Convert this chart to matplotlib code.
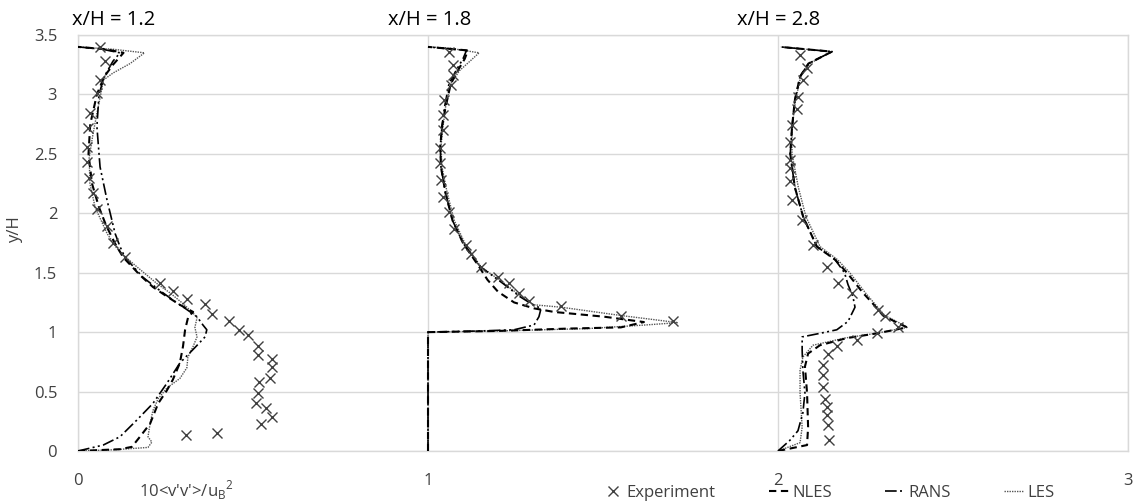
import matplotlib
matplotlib.use("Agg")
import matplotlib.pyplot as plt
from matplotlib.lines import Line2D

plt.rcParams['font.family'] = ['Open Sans', 'DejaVu Sans']

# ---------------- data ----------------
stations = ["x/H = 1.2", "x/H = 1.8", "x/H = 2.8"]
offsets = [0, 1, 2]

# x/H = 1.2
exp1_y = [3.40, 3.28, 3.12, 3.01, 2.84, 2.72, 2.56, 2.43, 2.30, 2.17, 2.04, 1.89, 1.75, 1.63, 1.41, 1.35,
          1.28, 1.24, 1.15, 1.09, 1.02, 0.98, 0.88, 0.81, 0.77, 0.71, 0.61, 0.58, 0.49, 0.40, 0.36, 0.29,
          0.23, 0.135, 0.15]
exp1_x = [0.063, 0.077, 0.063, 0.054, 0.034, 0.029, 0.026, 0.025, 0.032, 0.043, 0.054, 0.082, 0.10, 0.134,
          0.234, 0.27, 0.31, 0.363, 0.382, 0.432, 0.46, 0.486, 0.513, 0.513, 0.553, 0.553, 0.548, 0.517,
          0.513, 0.508, 0.536, 0.553, 0.523, 0.309, 0.396]
nles1_y = [0, 0.015, 0.035, 0.12, 0.23, 0.40, 0.51, 0.60, 0.74, 0.88, 1.02, 1.13, 1.17, 1.23, 1.30, 1.38,
           1.48, 1.63, 1.75, 1.90, 2.05, 2.25, 2.5, 2.75, 3.0, 3.15, 3.25, 3.35, 3.38, 3.40]
nles1_x = [0, 0.12, 0.154, 0.177, 0.206, 0.229, 0.254, 0.271, 0.291, 0.30, 0.306, 0.315, 0.329, 0.291,
           0.254, 0.214, 0.177, 0.129, 0.105, 0.08, 0.06, 0.04, 0.03, 0.035, 0.054, 0.075, 0.10, 0.13,
           0.08, 0.0]
rans1_y = [0, 0.05, 0.12, 0.26, 0.40, 0.57, 0.74, 0.87, 0.96, 1.02, 1.06, 1.13, 1.19, 1.27, 1.35, 1.46,
           1.63, 1.72, 1.83, 2.11, 2.39, 2.73, 3.0, 3.15, 3.28, 3.35, 3.38, 3.40]
rans1_x = [0, 0.072, 0.12, 0.168, 0.214, 0.254, 0.291, 0.334, 0.363, 0.368, 0.357, 0.34, 0.311, 0.271,
           0.234, 0.186, 0.134, 0.12, 0.106, 0.083, 0.063, 0.054, 0.06, 0.075, 0.10, 0.12, 0.07, 0.0]
les1_y = [0, 0.01, 0.03, 0.075, 0.12, 0.23, 0.34, 0.44, 0.53, 0.61, 0.70, 0.79, 0.88, 0.96, 1.04, 1.12,
          1.16, 1.24, 1.33, 1.41, 1.55, 1.65, 1.71, 1.83, 2.05, 2.25, 2.47, 2.67, 2.84, 3.0, 3.12, 3.18,
          3.26, 3.35, 3.38, 3.40]
les1_x = [0, 0.10, 0.20, 0.211, 0.20, 0.206, 0.214, 0.229, 0.254, 0.291, 0.311, 0.314, 0.329, 0.34,
          0.334, 0.34, 0.329, 0.30, 0.263, 0.225, 0.168, 0.129, 0.11, 0.083, 0.049, 0.034, 0.032, 0.043,
          0.054, 0.065, 0.072, 0.10, 0.149, 0.19, 0.10, 0.0]

# x/H = 1.8
exp2_y = [3.36, 3.25, 3.16, 3.08, 2.95, 2.83, 2.70, 2.55, 2.42, 2.28, 2.14, 2.01, 1.87, 1.73, 1.66, 1.55,
          1.46, 1.41, 1.33, 1.26, 1.22, 1.14, 1.09]
exp2_x = [0.06, 0.07, 0.07, 0.066, 0.046, 0.043, 0.043, 0.033, 0.033, 0.037, 0.043, 0.06, 0.075, 0.109,
          0.123, 0.151, 0.2, 0.23, 0.26, 0.289, 0.38, 0.551, 0.70]
nles2_y = [0, 1.0, 1.01, 1.03, 1.04, 1.085, 1.13, 1.17, 1.20, 1.25, 1.34, 1.44, 1.55, 1.75, 1.94, 2.17,
           2.39, 2.56, 2.73, 2.89, 3.09, 3.20, 3.30, 3.37, 3.40]
nles2_x = [0, 0, 0.2, 0.4, 0.551, 0.617, 0.503, 0.36, 0.303, 0.246, 0.2, 0.17, 0.146, 0.10, 0.07, 0.05,
           0.037, 0.035, 0.04, 0.05, 0.065, 0.085, 0.105, 0.114, 0.0]
rans2_y = [0, 1.0, 1.01, 1.02, 1.06, 1.13, 1.20, 1.23, 1.30, 1.41, 1.55, 1.75, 1.94, 2.17, 2.39, 2.56,
           2.73, 2.89, 3.09, 3.20, 3.30, 3.37, 3.40]
rans2_x = [0, 0, 0.15, 0.246, 0.303, 0.317, 0.323, 0.30, 0.262, 0.214, 0.15, 0.10, 0.07, 0.05, 0.037,
           0.035, 0.04, 0.047, 0.06, 0.08, 0.10, 0.11, 0.0]
les2_y = [0, 1.0, 1.01, 1.03, 1.06, 1.08, 1.14, 1.21, 1.23, 1.30, 1.41, 1.55, 1.75, 1.94, 2.17, 2.39,
          2.56, 2.73, 2.89, 3.09, 3.20, 3.28, 3.35, 3.39, 3.40]
les2_x = [0, 0, 0.2, 0.457, 0.62, 0.714, 0.551, 0.38, 0.303, 0.266, 0.218, 0.151, 0.105, 0.075, 0.055,
          0.04, 0.037, 0.043, 0.05, 0.065, 0.09, 0.12, 0.146, 0.06, 0.0]

# x/H = 2.8
exp3_y = [3.33, 3.22, 3.12, 2.98, 2.88, 2.74, 2.60, 2.45, 2.38, 2.27, 2.11, 1.94, 1.73, 1.55, 1.41, 1.33,
          1.19, 1.14, 1.04, 0.99, 0.93, 0.88, 0.82, 0.72, 0.64, 0.54, 0.44, 0.37, 0.30, 0.22, 0.09]
exp3_x = [0.063, 0.083, 0.072, 0.058, 0.053, 0.041, 0.035, 0.035, 0.035, 0.035, 0.04, 0.068, 0.10, 0.14,
          0.172, 0.211, 0.286, 0.306, 0.343, 0.283, 0.226, 0.168, 0.143, 0.129, 0.129, 0.129, 0.134,
          0.14, 0.14, 0.143, 0.146]
nles3_y = [0, 0.05, 0.2, 0.49, 0.71, 0.82, 0.89, 0.95, 0.99, 1.04, 1.08, 1.14, 1.24, 1.33, 1.50, 1.61,
           1.72, 1.97, 2.22, 2.5, 2.72, 2.95, 3.15, 3.26, 3.36, 3.40]
nles3_x = [0, 0.083, 0.086, 0.083, 0.077, 0.086, 0.12, 0.197, 0.283, 0.369, 0.34, 0.30, 0.271, 0.243,
           0.197, 0.163, 0.111, 0.072, 0.048, 0.035, 0.04, 0.048, 0.063, 0.087, 0.154, 0.006]
rans3_y = [0, 0.09, 0.17, 0.32, 0.49, 0.68, 0.85, 0.96, 0.99, 1.02, 1.09, 1.21, 1.30, 1.40, 1.50, 1.61,
           1.72, 1.97, 2.22, 2.5, 2.72, 2.95, 3.15, 3.26, 3.36, 3.40]
rans3_x = [0, 0.034, 0.057, 0.071, 0.077, 0.071, 0.069, 0.069, 0.12, 0.168, 0.2, 0.22, 0.214, 0.2, 0.19,
           0.163, 0.111, 0.072, 0.048, 0.035, 0.04, 0.048, 0.063, 0.087, 0.154, 0.006]
les3_y = [0, 0.07, 0.2, 0.49, 0.68, 0.79, 0.89, 0.95, 0.99, 1.04, 1.08, 1.14, 1.24, 1.33, 1.50, 1.61,
          1.72, 1.97, 2.22, 2.5, 2.72, 2.95, 3.15, 3.26, 3.36, 3.40]
les3_x = [0, 0.063, 0.069, 0.063, 0.063, 0.071, 0.10, 0.19, 0.28, 0.369, 0.345, 0.305, 0.276, 0.25,
          0.205, 0.17, 0.12, 0.08, 0.058, 0.04, 0.04, 0.05, 0.065, 0.09, 0.154, 0.006]

x_ticks = [0, 1, 2, 3]
y_ticks = [0, 0.5, 1, 1.5, 2, 2.5, 3, 3.5]
x_label = "10<v'v'>/u$_\\mathregular{B}$$^\\mathregular{2}$"
y_label = "y/H"
legend_labels = ["Experiment", "NLES", "RANS", "LES"]

# ---------------- styles ----------------
GRID = "#d9d9d9"
TXT = "#404040"
nles_style = dict(color="black", lw=1.5, linestyle=(0, (3.5, 2.2)))
rans_style = dict(color="black", lw=1.2, linestyle=(0, (7, 2, 1.2, 2, 1.2, 2)))
les_style = dict(color="#555555", lw=1.0, linestyle=(0, (1, 0.8)))
exp_style = dict(linestyle="none", marker="x", markersize=7, markeredgewidth=1.0, color="#404040")

fig = plt.figure(figsize=(11.37, 5.04), dpi=100)
ax = fig.add_axes([78 / 1137, 1 - 451 / 504, (1128 - 78) / 1137, (451 - 35) / 504])

profiles = [
    (exp1_x, exp1_y, nles1_x, nles1_y, rans1_x, rans1_y, les1_x, les1_y),
    (exp2_x, exp2_y, nles2_x, nles2_y, rans2_x, rans2_y, les2_x, les2_y),
    (exp3_x, exp3_y, nles3_x, nles3_y, rans3_x, rans3_y, les3_x, les3_y),
]
for off, (ex, ey, nx, ny, rx, ry, lx, ly) in zip(offsets, profiles):
    ax.plot([v + off for v in lx], ly, **les_style, zorder=3)
    ax.plot([v + off for v in rx], ry, **rans_style, zorder=4)
    ax.plot([v + off for v in nx], ny, **nles_style, zorder=5)
    ax.plot([v + off for v in ex], ey, **exp_style, zorder=6)

ax.set_xlim(0, 3)
ax.set_ylim(0, 3.5)
ax.set_xticks(x_ticks)
ax.set_xticklabels([str(t) for t in x_ticks])
ax.set_yticks(y_ticks)
ax.set_yticklabels(["0", "0.5", "1", "1.5", "2", "2.5", "3", "3.5"])
ax.grid(True, color=GRID, lw=1.0)
ax.set_axisbelow(True)
for s in ax.spines.values():
    s.set_color(GRID)
    s.set_linewidth(1.0)
ax.tick_params(length=0, labelsize=12, labelcolor=TXT)
ax.tick_params(axis="y", pad=15)
ax.tick_params(axis="x", pad=16)

fig.text(15 / 1137, 1 - 230 / 504, y_label, rotation=90, ha="center", va="center", fontsize=12, color=TXT)
fig.text(186 / 1137, 1 - 490 / 504, x_label, ha="center", va="center", fontsize=12, color=TXT)

title_x = [72, 388, 737]
for tx, st in zip(title_x, stations):
    fig.text(tx / 1137, 1 - 20 / 504, st, ha="left", va="center", fontsize=14.5, color="black")

handles = [
    Line2D([], [], **exp_style),
    Line2D([], [], **nles_style),
    Line2D([], [], **rans_style),
    Line2D([], [], **les_style),
]
fig.legend(handles, legend_labels, loc="center", bbox_to_anchor=(829 / 1137, 1 - 493 / 504), ncol=4,
           frameon=False, fontsize=12, handlelength=1.2, handletextpad=0.2, columnspacing=3.2,
           labelcolor=TXT)

fig.savefig("out.png", dpi=100)
